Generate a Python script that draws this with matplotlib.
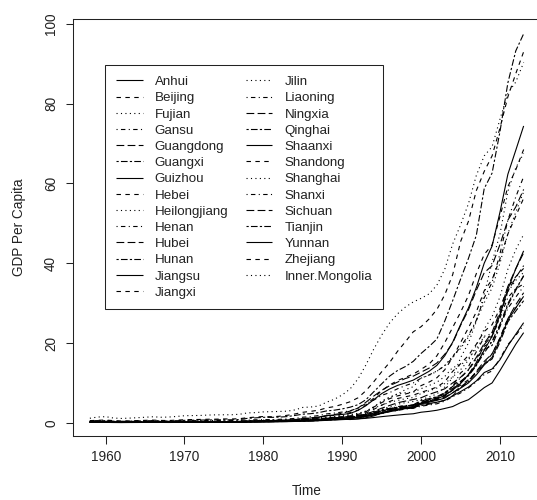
import matplotlib
matplotlib.use("Agg")
import matplotlib.pyplot as plt
from matplotlib.ticker import FixedLocator

plt.rcParams["font.family"] = ["Liberation Sans", "DejaVu Sans"]

# Annual GDP per capita (thousand yuan), 1958-2013
years = list(range(1958, 2014))

anhui = [0.15, 0.16, 0.14, 0.11, 0.10, 0.11, 0.12, 0.14, 0.15, 0.14,
         0.13, 0.14, 0.15, 0.16, 0.17, 0.17, 0.18, 0.18, 0.18, 0.20,
         0.24, 0.28, 0.29, 0.32, 0.35, 0.38, 0.45, 0.53, 0.57, 0.65,
         0.80, 0.87, 0.91, 0.83, 1.00, 1.27, 1.72, 2.52, 3.03, 3.47,
         3.72, 3.90, 4.87, 5.22, 5.63, 6.20, 7.53, 8.68, 10.0, 12.0,
         14.5, 16.4, 20.9, 25.7, 28.8, 31.7]
beijing = [0.55, 0.64, 0.70, 0.55, 0.48, 0.50, 0.56, 0.62, 0.68, 0.60,
           0.58, 0.67, 0.78, 0.82, 0.85, 0.90, 0.92, 0.98, 0.96, 1.05,
           1.29, 1.43, 1.58, 1.52, 1.64, 1.88, 2.22, 2.64, 2.88, 3.16,
           3.74, 4.07, 4.64, 5.28, 6.27, 8.05, 10.3, 12.8, 15.1, 17.9,
           20.3, 22.8, 24.1, 26.0, 28.4, 32.1, 37.1, 45.4, 50.5, 58.2,
           63.0, 66.9, 73.9, 81.7, 87.5, 93.0]
fujian = [0.17, 0.19, 0.19, 0.15, 0.14, 0.15, 0.17, 0.18, 0.19, 0.17,
          0.16, 0.17, 0.19, 0.20, 0.20, 0.21, 0.20, 0.22, 0.21, 0.24,
          0.27, 0.31, 0.35, 0.39, 0.41, 0.43, 0.52, 0.66, 0.72, 0.85,
          1.07, 1.26, 1.42, 1.60, 2.03, 2.79, 4.01, 5.22, 6.28, 7.22,
          8.32, 9.05, 11.2, 11.9, 12.9, 14.4, 16.7, 18.6, 21.5, 25.6,
          30.1, 33.8, 40.0, 47.4, 52.8, 57.9]
gansu = [0.18, 0.20, 0.17, 0.12, 0.12, 0.13, 0.15, 0.17, 0.19, 0.17,
         0.15, 0.17, 0.19, 0.22, 0.22, 0.23, 0.24, 0.24, 0.24, 0.28,
         0.35, 0.35, 0.39, 0.37, 0.39, 0.43, 0.47, 0.55, 0.63, 0.68,
         0.82, 0.95, 1.10, 1.21, 1.38, 1.58, 1.93, 2.29, 2.80, 3.09,
         3.46, 3.67, 4.16, 4.47, 4.77, 5.43, 6.57, 7.48, 8.76, 10.3,
         12.1, 13.0, 16.1, 19.6, 21.9, 24.5]
guangdong = [0.21, 0.23, 0.22, 0.19, 0.19, 0.20, 0.22, 0.24, 0.25, 0.22,
             0.21, 0.23, 0.25, 0.27, 0.28, 0.29, 0.30, 0.31, 0.30, 0.33,
             0.37, 0.41, 0.48, 0.55, 0.62, 0.65, 0.77, 0.95, 1.05, 1.31,
             1.76, 2.09, 2.40, 2.94, 3.70, 5.16, 6.72, 8.14, 9.30, 10.2,
             11.1, 11.7, 12.7, 13.7, 15.0, 17.2, 20.0, 24.4, 28.3, 33.2,
             37.6, 39.4, 44.7, 50.8, 54.1, 58.5]
guangxi = [0.14, 0.15, 0.14, 0.11, 0.10, 0.11, 0.12, 0.14, 0.15, 0.13,
           0.12, 0.13, 0.15, 0.16, 0.16, 0.17, 0.17, 0.17, 0.17, 0.19,
           0.23, 0.26, 0.28, 0.31, 0.33, 0.34, 0.37, 0.43, 0.48, 0.55,
           0.68, 0.77, 0.90, 1.07, 1.34, 1.88, 2.67, 3.30, 3.59, 3.85,
           3.91, 3.89, 4.32, 4.67, 5.10, 5.64, 6.77, 8.79, 10.3, 12.6,
           14.7, 16.0, 20.2, 25.3, 28.0, 30.6]
guizhou = [0.11, 0.12, 0.11, 0.08, 0.07, 0.08, 0.09, 0.10, 0.11, 0.10,
           0.09, 0.10, 0.11, 0.12, 0.12, 0.12, 0.12, 0.13, 0.12, 0.14,
           0.18, 0.22, 0.22, 0.24, 0.27, 0.30, 0.35, 0.42, 0.45, 0.53,
           0.62, 0.70, 0.81, 0.90, 0.99, 1.13, 1.33, 1.55, 1.75, 1.94,
           2.13, 2.27, 2.66, 2.87, 3.15, 3.60, 4.08, 5.05, 5.79, 7.27,
           8.82, 10.0, 13.1, 16.4, 19.7, 22.6]
hebei = [0.21, 0.23, 0.21, 0.16, 0.15, 0.16, 0.18, 0.20, 0.22, 0.20,
         0.19, 0.21, 0.24, 0.26, 0.27, 0.28, 0.29, 0.30, 0.29, 0.32,
         0.36, 0.40, 0.43, 0.44, 0.47, 0.52, 0.59, 0.70, 0.78, 0.89,
         1.10, 1.26, 1.41, 1.58, 1.85, 2.44, 3.38, 4.43, 5.34, 6.08,
         6.53, 6.93, 7.66, 8.25, 8.96, 10.3, 12.9, 14.8, 16.9, 19.7,
         22.9, 24.6, 28.7, 34.0, 36.6, 38.7]
heilongjiang = [0.35, 0.40, 0.37, 0.28, 0.27, 0.29, 0.31, 0.33, 0.35, 0.32,
                0.30, 0.33, 0.38, 0.41, 0.41, 0.43, 0.44, 0.45, 0.44, 0.48,
                0.56, 0.60, 0.69, 0.70, 0.72, 0.81, 0.90, 1.03, 1.11, 1.25,
                1.42, 1.60, 1.89, 2.10, 2.37, 2.96, 3.98, 5.47, 6.47, 7.24,
                7.54, 7.66, 8.56, 9.35, 10.2, 11.6, 13.9, 14.4, 16.2, 18.5,
                21.7, 22.4, 27.1, 32.8, 35.7, 37.7]
henan = [0.13, 0.14, 0.13, 0.10, 0.10, 0.11, 0.12, 0.13, 0.15, 0.13,
         0.12, 0.13, 0.15, 0.16, 0.16, 0.17, 0.17, 0.17, 0.17, 0.19,
         0.23, 0.27, 0.32, 0.32, 0.35, 0.40, 0.45, 0.58, 0.62, 0.69,
         0.85, 0.96, 1.09, 1.15, 1.35, 1.65, 2.21, 2.93, 3.63, 4.06,
         4.31, 4.47, 5.44, 5.96, 6.44, 7.38, 9.07, 11.3, 13.2, 16.0,
         19.2, 20.3, 24.4, 28.7, 31.5, 34.2]
hubei = [0.18, 0.20, 0.18, 0.14, 0.13, 0.14, 0.16, 0.18, 0.19, 0.17,
         0.16, 0.18, 0.21, 0.23, 0.23, 0.24, 0.24, 0.25, 0.24, 0.28,
         0.33, 0.38, 0.43, 0.45, 0.47, 0.52, 0.62, 0.78, 0.85, 0.96,
         1.13, 1.23, 1.42, 1.55, 1.76, 2.17, 2.88, 3.67, 4.35, 5.02,
         5.45, 5.85, 6.29, 7.12, 7.78, 8.53, 10.0, 11.4, 13.3, 16.4,
         19.9, 22.7, 27.9, 34.2, 38.6, 42.6]
hunan = [0.15, 0.17, 0.15, 0.12, 0.11, 0.12, 0.14, 0.15, 0.16, 0.15,
         0.14, 0.15, 0.17, 0.18, 0.19, 0.19, 0.20, 0.20, 0.19, 0.22,
         0.29, 0.32, 0.37, 0.38, 0.40, 0.42, 0.48, 0.58, 0.64, 0.72,
         0.88, 0.97, 1.13, 1.24, 1.42, 1.70, 2.25, 2.88, 3.47, 3.92,
         4.22, 4.49, 5.64, 6.05, 6.57, 7.55, 9.12, 10.4, 11.9, 14.5,
         17.5, 20.4, 24.7, 29.9, 33.5, 36.8]
jiangsu = [0.20, 0.22, 0.21, 0.17, 0.16, 0.17, 0.19, 0.21, 0.22, 0.20,
           0.19, 0.21, 0.25, 0.27, 0.28, 0.30, 0.31, 0.32, 0.31, 0.36,
           0.43, 0.47, 0.54, 0.58, 0.62, 0.68, 0.79, 1.05, 1.20, 1.45,
           1.81, 1.96, 2.11, 2.35, 3.11, 4.29, 5.80, 7.32, 8.47, 9.37,
           10.0, 10.7, 11.8, 12.9, 14.4, 16.8, 20.2, 24.6, 28.8, 33.9,
           40.0, 44.3, 52.8, 62.3, 68.3, 74.4]
jiangxi = [0.15, 0.16, 0.15, 0.12, 0.11, 0.12, 0.13, 0.15, 0.16, 0.14,
           0.13, 0.15, 0.16, 0.17, 0.18, 0.18, 0.18, 0.19, 0.18, 0.21,
           0.28, 0.32, 0.34, 0.36, 0.39, 0.42, 0.48, 0.58, 0.63, 0.71,
           0.86, 0.95, 1.13, 1.22, 1.42, 1.70, 2.20, 2.90, 3.46, 3.89,
           4.16, 4.42, 4.85, 5.22, 5.83, 6.68, 8.19, 9.44, 10.8, 12.6,
           14.8, 17.3, 21.3, 26.2, 28.8, 31.9]
jilin = [0.27, 0.30, 0.29, 0.22, 0.21, 0.22, 0.24, 0.26, 0.28, 0.26,
         0.24, 0.27, 0.30, 0.32, 0.33, 0.34, 0.34, 0.36, 0.35, 0.39,
         0.38, 0.42, 0.45, 0.49, 0.54, 0.65, 0.76, 0.87, 0.98, 1.16,
         1.37, 1.49, 1.75, 1.93, 2.31, 2.80, 3.70, 4.41, 5.16, 5.60,
         6.04, 6.34, 7.35, 7.99, 8.71, 9.85, 11.5, 13.3, 15.7, 19.4,
         23.5, 26.6, 31.6, 38.5, 43.4, 47.2]
liaoning = [0.45, 0.52, 0.50, 0.36, 0.33, 0.35, 0.39, 0.43, 0.46, 0.41,
            0.38, 0.44, 0.50, 0.54, 0.56, 0.59, 0.60, 0.62, 0.61, 0.63,
            0.68, 0.76, 0.81, 0.81, 0.87, 0.97, 1.11, 1.41, 1.55, 1.83,
            2.23, 2.45, 2.70, 3.02, 3.70, 4.85, 5.70, 6.88, 7.57, 8.52,
            9.33, 9.99, 11.2, 12.0, 13.0, 14.3, 16.3, 19.1, 21.9, 25.7,
            31.3, 35.2, 42.4, 50.8, 56.6, 61.7]
ningxia = [0.20, 0.23, 0.21, 0.15, 0.14, 0.16, 0.18, 0.20, 0.22, 0.19,
           0.18, 0.20, 0.23, 0.25, 0.26, 0.27, 0.28, 0.28, 0.27, 0.32,
           0.37, 0.39, 0.43, 0.45, 0.48, 0.53, 0.60, 0.73, 0.79, 0.87,
           1.04, 1.21, 1.39, 1.55, 1.71, 1.98, 2.42, 3.01, 3.42, 3.60,
           3.98, 4.36, 5.03, 5.71, 6.17, 6.98, 8.30, 10.2, 12.1, 15.1,
           19.6, 21.8, 26.9, 33.0, 36.4, 39.4]
qinghai = [0.25, 0.29, 0.26, 0.18, 0.17, 0.19, 0.21, 0.24, 0.26, 0.23,
           0.21, 0.24, 0.27, 0.29, 0.30, 0.31, 0.31, 0.32, 0.30, 0.36,
           0.43, 0.44, 0.47, 0.46, 0.50, 0.54, 0.62, 0.70, 0.77, 0.85,
           1.03, 1.18, 1.36, 1.56, 1.76, 2.12, 2.52, 2.91, 3.28, 3.68,
           4.07, 4.47, 5.14, 5.81, 6.43, 7.31, 8.64, 10.0, 11.8, 14.3,
           18.4, 19.4, 24.1, 29.5, 33.2, 36.9]
shaanxi = [0.16, 0.18, 0.17, 0.13, 0.12, 0.13, 0.15, 0.17, 0.18, 0.16,
           0.15, 0.17, 0.19, 0.21, 0.22, 0.23, 0.23, 0.24, 0.23, 0.26,
           0.29, 0.33, 0.33, 0.34, 0.37, 0.40, 0.48, 0.59, 0.63, 0.72,
           0.89, 1.03, 1.14, 1.28, 1.43, 1.70, 2.01, 2.34, 2.81, 3.12,
           3.83, 4.10, 4.97, 5.40, 5.98, 6.88, 8.21, 9.84, 12.1, 14.6,
           18.2, 21.7, 27.1, 33.5, 38.6, 43.1]
shandong = [0.17, 0.19, 0.17, 0.13, 0.12, 0.13, 0.15, 0.17, 0.19, 0.17,
            0.16, 0.18, 0.21, 0.23, 0.23, 0.24, 0.25, 0.26, 0.25, 0.29,
            0.32, 0.35, 0.40, 0.45, 0.51, 0.57, 0.67, 0.81, 0.87, 1.00,
            1.22, 1.39, 1.52, 1.76, 2.12, 2.78, 3.95, 5.06, 6.05, 6.75,
            7.22, 7.74, 9.33, 10.2, 11.3, 13.3, 16.4, 20.1, 23.8, 27.8,
            33.1, 35.9, 41.1, 47.3, 51.8, 56.3]
shanghai = [1.15, 1.45, 1.55, 1.20, 1.10, 1.18, 1.28, 1.40, 1.52, 1.40,
            1.45, 1.60, 1.78, 1.82, 1.85, 1.95, 2.00, 2.02, 2.03, 2.15,
            2.49, 2.56, 2.74, 2.80, 2.85, 2.92, 3.24, 3.86, 3.96, 4.21,
            5.16, 5.90, 7.00, 8.50, 11.0, 14.5, 18.5, 22.0, 25.0, 27.3,
            29.0, 30.3, 31.2, 32.3, 34.5, 38.5, 44.8, 49.6, 54.9, 62.0,
            66.9, 69.2, 76.1, 82.6, 85.4, 90.3]
shanxi = [0.20, 0.23, 0.21, 0.16, 0.15, 0.16, 0.18, 0.19, 0.21, 0.19,
          0.18, 0.20, 0.23, 0.25, 0.25, 0.26, 0.27, 0.27, 0.26, 0.30,
          0.36, 0.42, 0.44, 0.44, 0.49, 0.54, 0.67, 0.85, 0.87, 0.95,
          1.08, 1.22, 1.33, 1.46, 1.64, 1.98, 2.46, 3.03, 3.58, 3.99,
          4.32, 4.45, 5.14, 5.46, 6.15, 7.44, 9.15, 12.5, 14.1, 17.8,
          21.5, 21.5, 26.3, 31.4, 33.6, 34.8]
sichuan = [0.14, 0.15, 0.13, 0.10, 0.10, 0.11, 0.12, 0.14, 0.15, 0.13,
           0.12, 0.13, 0.15, 0.16, 0.17, 0.17, 0.17, 0.18, 0.17, 0.20,
           0.26, 0.30, 0.32, 0.34, 0.37, 0.40, 0.45, 0.51, 0.55, 0.62,
           0.76, 0.84, 0.98, 1.08, 1.25, 1.54, 2.08, 2.52, 2.96, 3.41,
           3.62, 3.81, 4.78, 5.25, 5.77, 6.42, 7.51, 8.99, 10.5, 12.9,
           15.4, 17.3, 21.2, 26.1, 29.6, 32.6]
tianjin = [0.45, 0.52, 0.55, 0.42, 0.38, 0.40, 0.45, 0.50, 0.55, 0.48,
           0.46, 0.53, 0.62, 0.66, 0.68, 0.72, 0.74, 0.77, 0.75, 0.83,
           1.13, 1.24, 1.39, 1.37, 1.43, 1.56, 1.85, 2.17, 2.30, 2.55,
           2.98, 3.17, 3.49, 3.92, 4.55, 5.79, 7.79, 9.77, 11.7, 13.1,
           14.1, 15.4, 17.4, 19.1, 21.0, 25.5, 30.6, 36.0, 41.2, 47.0,
           58.7, 62.6, 73.0, 85.2, 93.2, 97.5]
yunnan = [0.13, 0.14, 0.13, 0.10, 0.09, 0.10, 0.11, 0.12, 0.13, 0.12,
          0.11, 0.12, 0.13, 0.14, 0.15, 0.15, 0.15, 0.16, 0.15, 0.17,
          0.23, 0.25, 0.27, 0.29, 0.32, 0.34, 0.40, 0.46, 0.50, 0.59,
          0.75, 0.87, 1.03, 1.21, 1.38, 1.66, 2.00, 2.49, 3.02, 3.32,
          3.55, 3.67, 4.64, 4.87, 5.17, 5.66, 6.73, 7.83, 8.97, 10.5,
          12.6, 13.5, 15.8, 19.3, 22.2, 25.1]
zhejiang = [0.20, 0.22, 0.20, 0.16, 0.15, 0.16, 0.18, 0.20, 0.22, 0.19,
            0.18, 0.20, 0.23, 0.25, 0.26, 0.27, 0.27, 0.28, 0.27, 0.30,
            0.33, 0.38, 0.47, 0.53, 0.59, 0.66, 0.79, 1.06, 1.21, 1.41,
            1.71, 1.87, 2.14, 2.56, 3.19, 4.47, 6.20, 8.07, 9.46, 10.6,
            11.4, 12.2, 13.4, 14.7, 16.8, 20.1, 23.9, 27.7, 31.9, 37.4,
            42.2, 44.6, 51.7, 59.2, 63.4, 68.5]
inner_mongolia = [0.25, 0.28, 0.26, 0.19, 0.18, 0.20, 0.22, 0.24, 0.26, 0.23,
                  0.20, 0.22, 0.25, 0.27, 0.28, 0.29, 0.29, 0.30, 0.29, 0.30,
                  0.32, 0.35, 0.36, 0.39, 0.44, 0.49, 0.58, 0.77, 0.83, 0.95,
                  1.14, 1.28, 1.48, 1.66, 1.87, 2.26, 2.85, 3.43, 4.02, 4.64,
                  5.07, 5.35, 5.87, 6.46, 7.24, 8.98, 11.3, 16.3, 20.0, 25.4,
                  32.2, 40.3, 47.3, 58.0, 63.9, 67.5]

provinces = ["Anhui", "Beijing", "Fujian", "Gansu", "Guangdong", "Guangxi",
             "Guizhou", "Hebei", "Heilongjiang", "Henan", "Hubei", "Hunan",
             "Jiangsu", "Jiangxi", "Jilin", "Liaoning", "Ningxia", "Qinghai",
             "Shaanxi", "Shandong", "Shanghai", "Shanxi", "Sichuan", "Tianjin",
             "Yunnan", "Zhejiang", "Inner.Mongolia"]
series = [anhui, beijing, fujian, gansu, guangdong, guangxi, guizhou, hebei,
          heilongjiang, henan, hubei, hunan, jiangsu, jiangxi, jilin, liaoning,
          ningxia, qinghai, shaanxi, shandong, shanghai, shanxi, sichuan,
          tianjin, yunnan, zhejiang, inner_mongolia]

x_ticks = [1960, 1970, 1980, 1990, 2000, 2010]
y_ticks = [0, 20, 40, 60, 80, 100]

# R-style line types cycled over the series: solid, dashed, dotted,
# dotdash, longdash, twodash
line_types = ["-", (0, (4, 4)), (0, (1, 3)), (0, (1, 3, 4, 3)),
              (0, (7, 3)), (0, (2, 2, 6, 2))]

W, H = 537, 500
fig = plt.figure(figsize=(W / 100, H / 100), dpi=100)
fig.patch.set_facecolor("white")

left_px, right_px, top_px, bottom_px = 72.5, 541.0, 19.0, 436.0
ax = fig.add_axes([left_px / W, 1 - bottom_px / H,
                   (right_px - left_px) / W, (bottom_px - top_px) / H])

for i, (name, vals) in enumerate(zip(provinces, series)):
    ax.plot(years, vals, color="black", linewidth=0.8,
            linestyle=line_types[i % len(line_types)], label=name,
            solid_capstyle="butt", dash_capstyle="butt")

ax.set_xlim(1955.8, 2015.2)
ax.set_ylim(-3.3, 101.2)
ax.xaxis.set_major_locator(FixedLocator(x_ticks))
ax.yaxis.set_major_locator(FixedLocator(y_ticks))

tick_fs = 9.8
ax.tick_params(direction="out", length=5.4, width=0.75, color="#222222",
               labelsize=tick_fs, labelcolor="#222222", pad=5)
for lab in ax.get_yticklabels():
    lab.set_rotation(90)
    lab.set_va("center")

for sp in ax.spines.values():
    sp.set_linewidth(0.75)
    sp.set_color("#222222")

ax.set_xlabel("Time", fontsize=tick_fs, color="#222222", va="center")
ax.xaxis.set_label_coords(0.5, (bottom_px - 491) / (bottom_px - top_px))
ax.set_ylabel("GDP Per Capita", fontsize=tick_fs, color="#222222", va="center")
ax.yaxis.set_label_coords((19.5 - left_px) / (right_px - left_px), 0.5)

leg_fs = 9.65
leg = ax.legend(loc="upper left", bbox_to_anchor=(105 / W, 1 - 65 / H),
                bbox_transform=fig.transFigure, ncol=2, fontsize=leg_fs,
                frameon=True, fancybox=False, shadow=False, framealpha=1,
                borderaxespad=0, borderpad=0.8, handlelength=2.0,
                handletextpad=0.9, columnspacing=1.3, labelspacing=0.285)
leg.get_frame().set_edgecolor("#222222")
leg.get_frame().set_linewidth(0.75)
for t in leg.get_texts():
    t.set_color("#222222")

fig.savefig("out.png", dpi=100)
